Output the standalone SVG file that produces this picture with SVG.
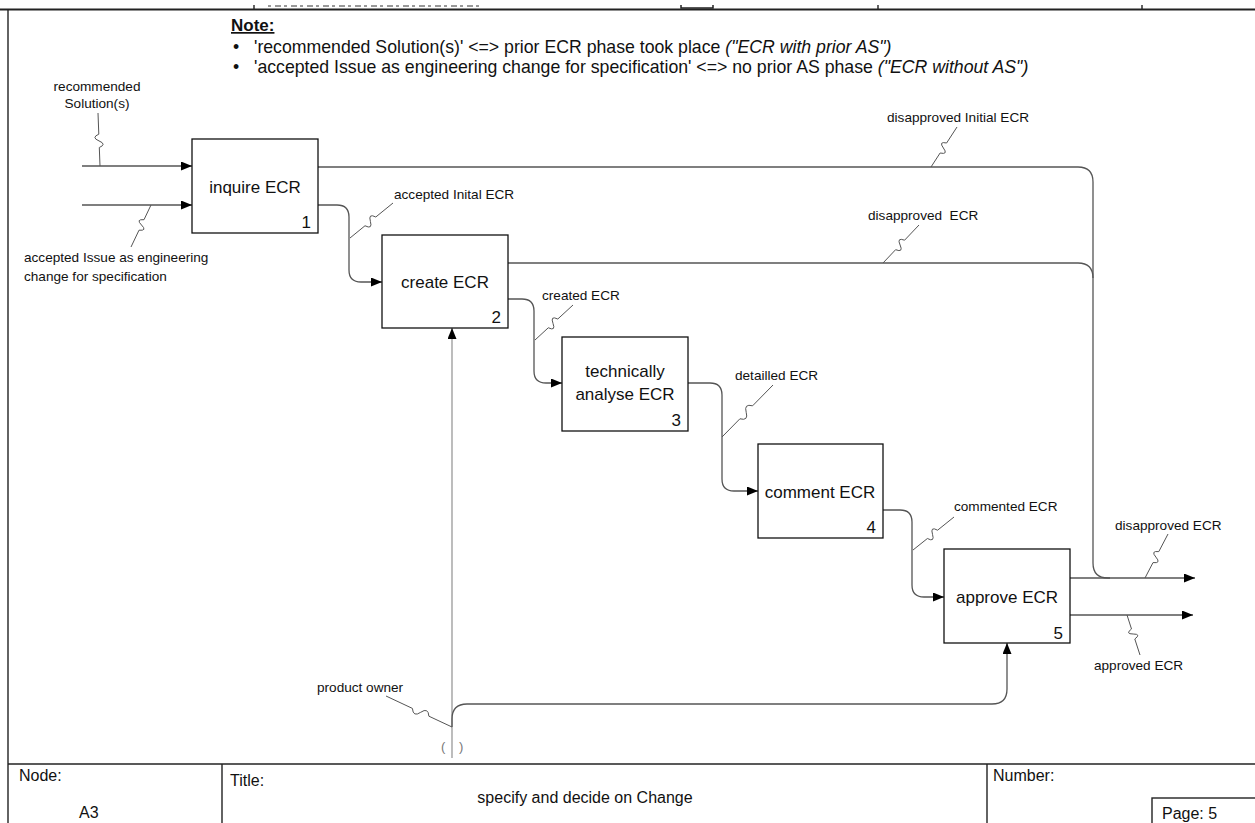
<svg xmlns="http://www.w3.org/2000/svg" width="1255" height="823" viewBox="0 0 1255 823">
<style>
text{font-family:"Liberation Sans",Arial,sans-serif;fill:#111}
.lbl{font-size:13.6px}
.box{fill:#fff;stroke:#111;stroke-width:1.3}
.bl{font-size:17px;text-anchor:middle}
.num{font-size:17px;text-anchor:end}
.con{fill:none;stroke:#555;stroke-width:1.3}
.sq{fill:none;stroke:#555;stroke-width:1}
.frame{fill:none;stroke:#222;stroke-width:1.4}
.note{font-size:17.7px}
.foot{font-size:16px}
</style>
<defs>
<marker id="ah" viewBox="0 0 11 9" refX="11" refY="4.5" markerWidth="11" markerHeight="9" markerUnits="userSpaceOnUse" orient="auto">
<path d="M0,0 L11,4.5 L0,9 z" fill="#000"/>
</marker>
</defs>
<rect width="1255" height="823" fill="#fff"/>
<g id="frame">
<line x1="0" y1="9.5" x2="1255" y2="9.5" stroke="#222" stroke-width="2"/>
<line x1="8" y1="9" x2="8" y2="823" class="frame"/>
<line x1="254" y1="5" x2="254" y2="9" class="frame"/>
<line x1="878" y1="5" x2="878" y2="9" class="frame"/>
<line x1="1142" y1="5" x2="1142" y2="9" class="frame"/>
<path d="M681,5 L681,8 L713,8 L713,5" fill="none" stroke="#222" stroke-width="1.5"/>
<line x1="268" y1="6" x2="482" y2="6" stroke="#333" stroke-width="1" stroke-dasharray="3,4,6,3"/>
<line x1="8" y1="764" x2="1255" y2="764" class="frame"/>
<line x1="222" y1="764" x2="222" y2="823" class="frame"/>
<line x1="987" y1="764" x2="987" y2="823" class="frame"/>
<rect x="1152" y="798" width="120" height="40" class="frame"/>
<text class="foot" x="19" y="781">Node:</text>
<text class="foot" x="79" y="818">A3</text>
<text class="foot" x="230" y="786">Title:</text>
<text class="foot" x="585" y="803" text-anchor="middle">specify and decide on Change</text>
<text class="foot" x="993" y="781">Number:</text>
<text class="foot" x="1162" y="819">Page:  5</text>
</g>
<g id="note">
<text x="231" y="31" font-size="17px" font-weight="bold" text-decoration="underline">Note:</text>
<text class="note" x="233" y="53">•</text>
<text class="note" x="254" y="53">'recommended Solution(s)' &lt;=&gt; prior ECR phase took place <tspan font-style="italic">("ECR with prior AS")</tspan></text>
<text class="note" x="233" y="73">•</text>
<text class="note" x="254" y="73">'accepted Issue as engineering change for specification' &lt;=&gt; no prior AS phase <tspan font-style="italic">("ECR without AS")</tspan></text>
</g>
<g id="connectors">
<path class="con" d="M82,166 L192,166" marker-end="url(#ah)"/>
<path class="con" d="M82,205 L192,205" marker-end="url(#ah)"/>
<path class="con" d="M318,167 L1078,167 Q1093,167 1093,182 L1093,563 Q1093,578 1108,578 L1195,578" marker-end="url(#ah)"/>
<path class="con" d="M508,263 L1078,263 Q1093,263 1093,278"/>
<path class="con" d="M1070,578 L1110,578"/>
<path class="con" d="M1070,615 L1193,615" marker-end="url(#ah)"/>
<path class="con" d="M318,205 L337,205 Q349,205 349,217 L349,270 Q349,282 361,282 L382,282" marker-end="url(#ah)"/>
<path class="con" d="M508,299 L522,299 Q534,299 534,311 L534,371 Q534,383 546,383 L562,383" marker-end="url(#ah)"/>
<path class="con" d="M688,383 L710,383 Q722,383 722,395 L722,479 Q722,491 734,491 L758,491" marker-end="url(#ah)"/>
<path class="con" d="M883,510 L900,510 Q912,510 912,522 L912,585 Q912,597 924,597 L944,597" marker-end="url(#ah)"/>
<path d="M452,758 L452,328" fill="none" stroke="#999" stroke-width="1.3" marker-end="url(#ah)"/>
<path class="con" d="M452,727 L452,719 Q452,704 467,704 L992,704 Q1007,704 1007,689 L1007,643" marker-end="url(#ah)"/>
<text x="0" y="751" font-size="13px" style="fill:#777"><tspan x="441">(</tspan><tspan x="459">)</tspan></text>
<path class="sq" d="M98,113 L98.8,134.2 Q90.9,137.5 99,140.9 T99.3,147.5 L100,166"/>
<path class="sq" d="M131,247 L139,230.2 Q147.5,231 141.5,225 T144,219.7 L151,205"/>
<path class="sq" d="M957,127 L946.6,143 Q938.3,141.1 943.4,148 T940.1,153 L931,167"/>
<path class="sq" d="M919,225 L904.6,240.2 Q896.5,237.1 900.1,245 T895.6,249.7 L883,263"/>
<path class="sq" d="M393,203 L375.8,217 Q368,213 370.4,221.4 T365,225.75 L350,238"/>
<path class="sq" d="M573,305 L557.8,319 Q550,315.3 553,323.4 T548.3,327.75 L535,340"/>
<path class="sq" d="M773,385 L752.6,405.8 Q743.7,403.4 746.2,412.3 T739.9,418.8 L722,437"/>
<path class="sq" d="M954,517 L937.6,530.2 Q930,526 932.5,534.3 T927.4,538.5 L913,550"/>
<path class="sq" d="M1168,534 L1158.8,551.6 Q1150.3,550.6 1155.9,557.1 T1153,562.6 L1145,578"/>
<path class="sq" d="M1140,655 L1134.8,639 Q1141.6,634 1133.2,634 T1131.5,629 L1127,615"/>
<path class="sq" d="M386,696 L412.4,708.4 Q413.1,717.5 420.7,712.3 T428.9,716.2 L452,727"/>
<text class="lbl" x="97" y="91" text-anchor="middle">recommended</text>
<text class="lbl" x="97" y="108" text-anchor="middle">Solution(s)</text>
<text class="lbl" x="24" y="262">accepted Issue as engineering</text>
<text class="lbl" x="24" y="281">change for specification</text>
<text class="lbl" x="887" y="122">disapproved Initial ECR</text>
<text class="lbl" x="394" y="199">accepted Inital ECR</text>
<text class="lbl" x="868" y="220">disapproved&#160; ECR</text>
<text class="lbl" x="542" y="300">created ECR</text>
<text class="lbl" x="735" y="380">detailled ECR</text>
<text class="lbl" x="954" y="511">commented ECR</text>
<text class="lbl" x="1115" y="530">disapproved ECR</text>
<text class="lbl" x="1094" y="670">approved ECR</text>
<text class="lbl" x="317" y="692">product owner</text>
</g>
<g id="node1">
<rect class="box" x="192" y="139" width="126" height="94"/>
<text class="bl" x="255" y="193">inquire ECR</text>
<text class="num" x="311" y="228">1</text>
</g>
<g id="node2">
<rect class="box" x="382" y="235" width="126" height="93"/>
<text class="bl" x="445" y="288">create ECR</text>
<text class="num" x="501" y="323">2</text>
</g>
<g id="node3">
<rect class="box" x="562" y="337" width="126" height="94"/>
<text class="bl" x="625" y="377">technically</text>
<text class="bl" x="625" y="400">analyse ECR</text>
<text class="num" x="681" y="426">3</text>
</g>
<g id="node4">
<rect class="box" x="758" y="444" width="125" height="94"/>
<text class="bl" x="820" y="498">comment ECR</text>
<text class="num" x="876" y="533">4</text>
</g>
<g id="node5">
<rect class="box" x="944" y="549" width="126" height="94"/>
<text class="bl" x="1007" y="603">approve ECR</text>
<text class="num" x="1063" y="639">5</text>
</g>
</svg>
